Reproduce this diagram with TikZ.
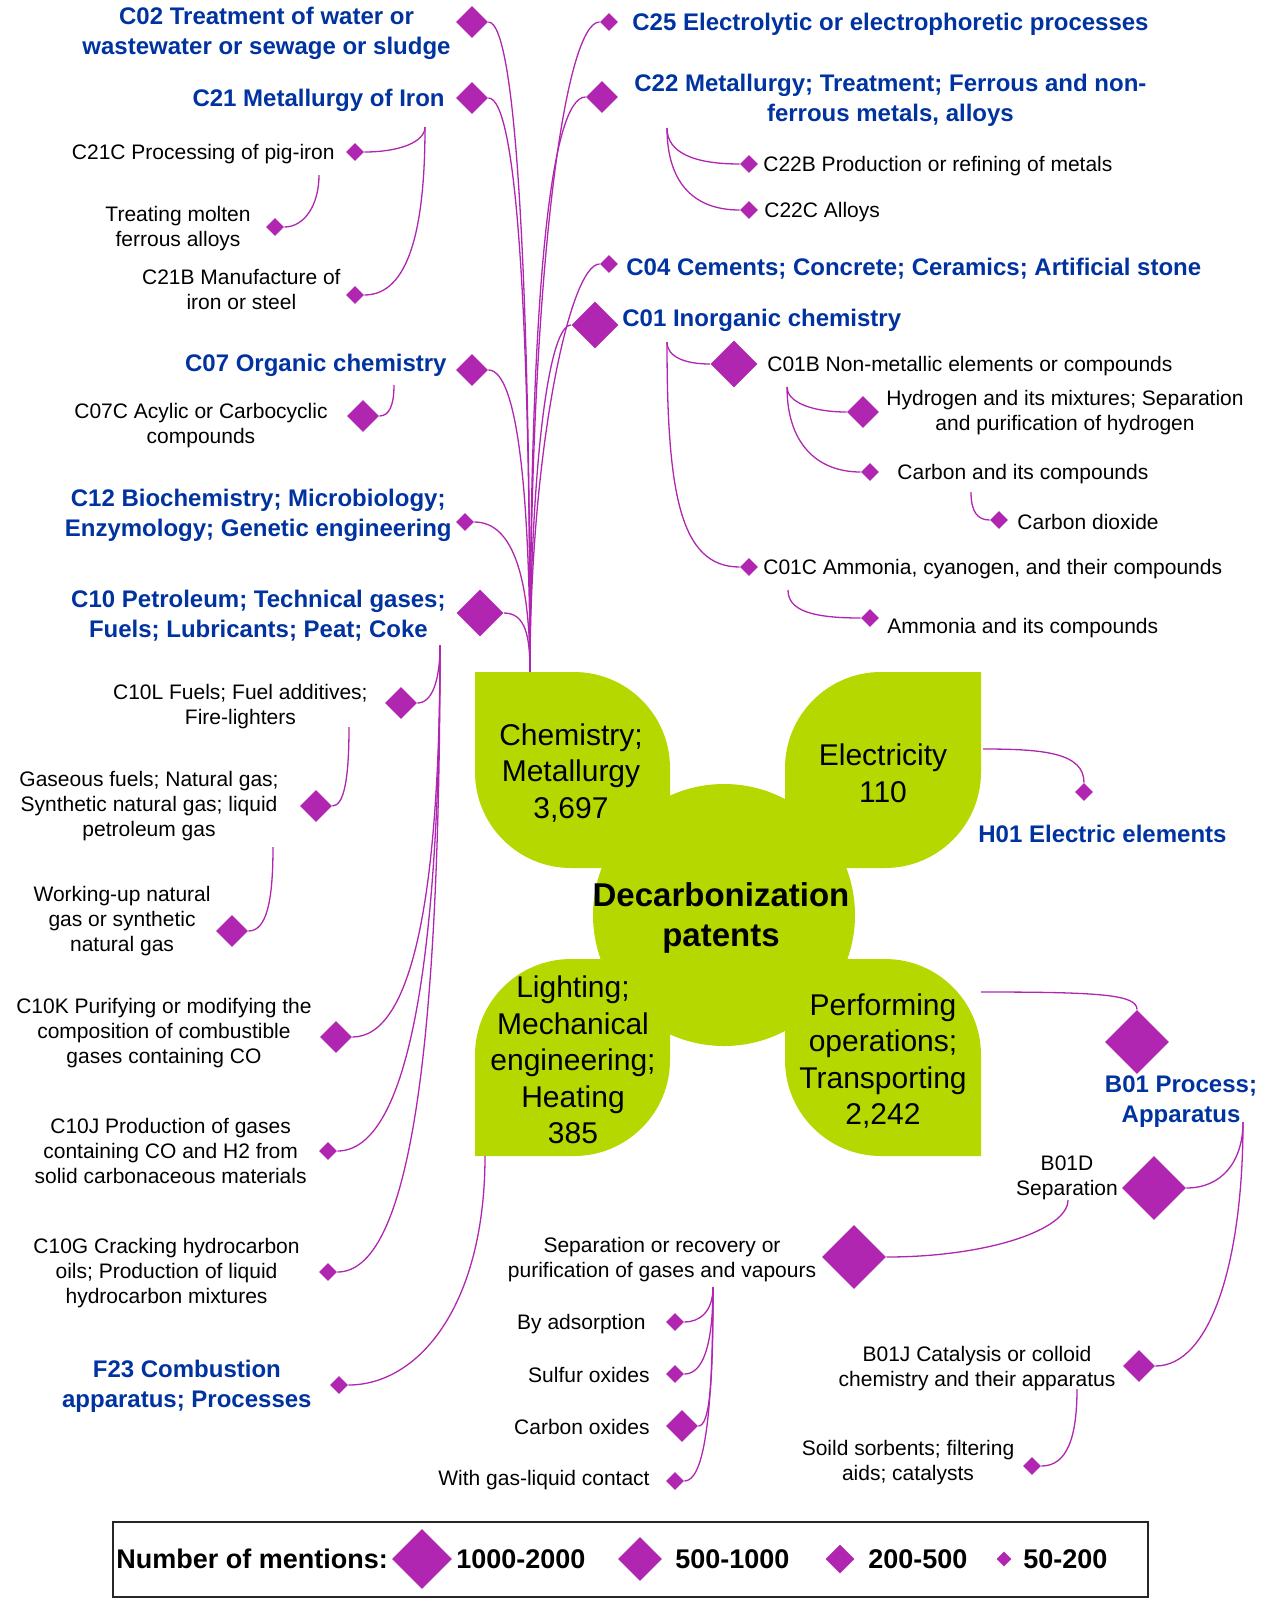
\documentclass[tikz,border=0pt]{standalone}
\usepackage{fontspec}
\setmainfont{Liberation Sans}
\usepackage{tikz}
\usetikzlibrary{shapes.geometric}
\definecolor{leafgreen}{RGB}{181,217,0}
\definecolor{branchpink}{RGB}{176,38,176}
\definecolor{cpcblue}{RGB}{0,51,160}
\tikzset{
    dia/.style={diamond, fill=branchpink, inner sep=0pt, minimum width=#1, minimum height=#1},
    dia xl/.style={dia=32pt},
    dia l/.style={dia=23.5pt},
    dia m/.style={dia=16pt},
    dia s/.style={dia=9pt},
    branch/.style={draw=branchpink, line width=0.65pt},
    cat/.style={text=cpcblue, font=\bfseries\fontsize{12}{15}\selectfont, align=center, inner sep=0pt, yshift=-1pt},
    sub/.style={font=\fontsize{10.5}{12.5}\selectfont, align=center, inner sep=0pt, yshift=-1pt},
    leaf/.style={fill=leafgreen},
    leaftext/.style={font=\fontsize{15}{18.3}\selectfont, align=center, inner sep=0pt, yshift=-1pt},
    legendtext/.style={font=\bfseries\fontsize{13.5}{16}\selectfont, inner sep=0pt},
}

\begin{document}
\begin{tikzpicture}[x=0.5pt, y=-0.5pt]
\useasboundingbox (0,0) rectangle (1273,1600);

\node[dia m] (c02) at (472,22) {};
\node[cat, anchor=east] (c02t) at (451,31) {C02 Treatment of water or\\wastewater or sewage or sludge};
\node[dia m] (c21) at (472,98) {};
\node[cat, anchor=east] (c21t) at (445,98) {C21 Metallurgy of Iron};
\node[dia s] (c21c) at (355,152) {};
\node[sub, anchor=east] (c21ct) at (335,152) {C21C Processing of pig-iron};
\node[dia s] (molten) at (275,227) {};
\node[sub, anchor=east] (moltent) at (251,227) {Treating molten\\ferrous alloys};
\node[dia s] (c21b) at (355,295) {};
\node[sub, anchor=east] (c21bt) at (341,288) {C21B Manufacture of\\iron or steel};
\node[dia m] (c07) at (472,370) {};
\node[cat, anchor=east] (c07t) at (447,363) {C07 Organic chemistry};
\node[dia m] (c07c) at (363,416) {};
\node[sub, anchor=east] (c07ct) at (328,424) {C07C Acylic or Carbocyclic\\compounds};
\node[dia s] (c12) at (465,522) {};
\node[cat, anchor=east] (c12t) at (452,513) {C12 Biochemistry; Microbiology;\\Enzymology; Genetic engineering};
\node[dia l] (c10) at (480,613) {};
\node[cat, anchor=east] (c10t) at (446,614) {C10 Petroleum; Technical gases;\\Fuels; Lubricants; Peat; Coke};
\node[dia m] (c10l) at (401,703) {};
\node[sub, anchor=east] (c10lt) at (368,705) {C10L Fuels; Fuel additives;\\Fire-lighters};
\node[dia m] (gasfuel) at (316,806) {};
\node[sub, anchor=east] (gasfuelt) at (279,804) {Gaseous fuels; Natural gas;\\Synthetic natural gas; liquid\\petroleum gas};
\node[dia m] (workup) at (232,931) {};
\node[sub, anchor=east] (workupt) at (211,919) {Working-up natural\\gas or synthetic\\natural gas};
\node[dia m] (c10k) at (336,1037) {};
\node[sub, anchor=east] (c10kt) at (312,1031) {C10K Purifying or modifying the\\composition of combustible\\gases containing CO};
\node[dia s] (c10j) at (328,1151) {};
\node[sub, anchor=east] (c10jt) at (307,1149) {C10J Production of gases\\containing CO and H2 from\\solid carbonaceous materials};
\node[dia s] (c10g) at (328,1272) {};
\node[sub, anchor=east] (c10gt) at (300,1271) {C10G Cracking hydrocarbon\\oils; Production of liquid\\hydrocarbon mixtures};
\node[dia s] (f23) at (339,1385) {};
\node[cat, anchor=east] (f23t) at (312,1384) {F23 Combustion\\apparatus; Processes};

\node[dia s] (c25) at (609,22) {};
\node[cat, anchor=west] (c25t) at (632,22) {C25 Electrolytic or electrophoretic processes};
\node[dia m] (c22) at (602,97) {};
\node[cat, anchor=west] (c22t) at (634,98) {C22 Metallurgy; Treatment; Ferrous and non-\\ferrous metals, alloys};
\node[dia s] (c22b) at (749,164) {};
\node[sub, anchor=west] (c22bt) at (763,164) {C22B Production or refining of metals};
\node[dia s] (c22c) at (749,210) {};
\node[sub, anchor=west] (c22ct) at (764,210) {C22C Alloys};
\node[dia s] (c04) at (609,264) {};
\node[cat, anchor=west] (c04t) at (626,267) {C04 Cements; Concrete; Ceramics; Artificial stone};
\node[dia l] (c01) at (595,325) {};
\node[cat, anchor=west] (c01t) at (622,318) {C01 Inorganic chemistry};
\node[dia l] (c01b) at (734,364) {};
\node[sub, anchor=west] (c01bt) at (767,364) {C01B Non-metallic elements or compounds};
\node[dia m] (hydro) at (863,412) {};
\node[sub, anchor=west] (hydrot) at (886,411) {Hydrogen and its mixtures; Separation\\and purification of hydrogen};
\node[dia s] (carbon) at (870,472) {};
\node[sub, anchor=west] (carbont) at (897,472) {Carbon and its compounds};
\node[dia s] (co2) at (999,520) {};
\node[sub, anchor=west] (co2t) at (1017,520) {Carbon dioxide};
\node[dia s] (c01c) at (749,567) {};
\node[sub, anchor=west] (c01ct) at (763,567) {C01C Ammonia, cyanogen, and their compounds};
\node[dia s] (ammonia) at (870,618) {};
\node[sub, anchor=west] (ammoniat) at (887,626) {Ammonia and its compounds};

\node[dia s] (h01) at (1084,792) {};
\node[cat, anchor=west] (h01t) at (978,832) {H01 Electric elements};

\node[dia xl] (b01) at (1137,1042) {};
\node[cat] (b01t) at (1181,1100) {B01 Process;\\Apparatus};
\node[dia xl] (b01d) at (1154,1188) {};
\node[sub] (b01dt) at (1067,1176) {B01D\\Separation};
\node[dia xl] (sep) at (854,1257) {};
\node[sub] (sept) at (662,1258) {Separation or recovery or\\purification of gases and vapours};
\node[dia s] (adsorb) at (675,1322) {};
\node[sub, anchor=east] (adsorbt) at (646,1322) {By adsorption};
\node[dia s] (sulfur) at (675,1374) {};
\node[sub, anchor=east] (sulfurt) at (650,1373) {Sulfur oxides};
\node[dia m] (cox) at (682,1426) {};
\node[sub, anchor=east] (coxt) at (650,1425) {Carbon oxides};
\node[dia s] (gasliq) at (675,1481) {};
\node[sub, anchor=east] (gasliqt) at (650,1478) {With gas-liquid contact};
\node[dia m] (b01j) at (1139,1366) {};
\node[sub] (b01jt) at (977,1367) {B01J Catalysis or colloid\\chemistry and their apparatus};
\node[dia s] (sorb) at (1032,1466) {};
\node[sub] (sorbt) at (908,1461) {Soild sorbents; filtering\\aids; catalysts};

\coordinate (trunk) at (530,672);
\coordinate (c21fork) at (425,127);
\coordinate (c21cfork) at (319,175);
\coordinate (c07fork) at (394,385);
\coordinate (c10fork) at (440,645);
\coordinate (c10lfork) at (349,727);
\coordinate (gasfork) at (273,847);
\coordinate (c22fork) at (667,128);
\coordinate (c01fork) at (667,342);
\coordinate (c01bfork) at (787,387);
\coordinate (carbonfork) at (971,492);
\coordinate (c01cfork) at (788,590);
\coordinate (elecside) at (983,749);
\coordinate (perfside) at (981,992);
\coordinate (lightfoot) at (485,1156);
\coordinate (b01fork) at (1243,1122);
\coordinate (b01dfork) at (1068,1200);
\coordinate (sepfork) at (713,1287);
\coordinate (b01jfork) at (1077,1389);

\draw[branch] (c02.east) .. controls +(30,0) and +(0,-350) .. (trunk);
\draw[branch] (c21.east) .. controls +(30,0) and +(0,-330) .. (trunk);
\draw[branch] (c07.east) .. controls +(30,0) and +(0,-170) .. (trunk);
\draw[branch] (c12.east) .. controls +(40,0) and +(0,-90) .. (trunk);
\draw[branch] (c10.east) .. controls +(22,0) and +(0,-35) .. (trunk);
\draw[branch] (c25.west) .. controls +(-35,0) and +(0,-400) .. (trunk);
\draw[branch] (c22.west) .. controls +(-35,0) and +(0,-380) .. (trunk);
\draw[branch] (c04.west) .. controls +(-30,0) and +(0,-220) .. (trunk);
\draw[branch] (c01.west) .. controls +(-25,0) and +(0,-180) .. (trunk);

\draw[branch] (c21fork) .. controls +(0,15) and +(35,0) .. (c21c.east);
\draw[branch] (c21fork) .. controls +(0,100) and +(45,0) .. (c21b.east);
\draw[branch] (c21cfork) .. controls +(0,30) and +(20,0) .. (molten.east);
\draw[branch] (c07fork) .. controls +(0,20) and +(10,0) .. (c07c.east);
\draw[branch] (c10fork) .. controls +(0,35) and +(15,0) .. (c10l.east);
\draw[branch] (c10fork) .. controls +(0,250) and +(60,0) .. (c10k.east);
\draw[branch] (c10fork) .. controls +(0,320) and +(70,0) .. (c10j.east);
\draw[branch] (c10fork) .. controls +(0,420) and +(70,0) .. (c10g.east);
\draw[branch] (c10lfork) .. controls +(0,50) and +(12,0) .. (gasfuel.east);
\draw[branch] (gasfork) .. controls +(0,55) and +(18,0) .. (workup.east);
\draw[branch] (lightfoot) .. controls +(0,150) and +(70,0) .. (f23.east);
\draw[branch] (c22fork) .. controls +(0,25) and +(-45,0) .. (c22b.west);
\draw[branch] (c22fork) .. controls +(0,50) and +(-50,0) .. (c22c.west);
\draw[branch] (c01fork) .. controls +(0,15) and +(-25,0) .. (c01b.west);
\draw[branch] (c01fork) .. controls +(0,150) and +(-60,0) .. (c01c.west);
\draw[branch] (c01bfork) .. controls +(0,15) and +(-35,0) .. (hydro.west);
\draw[branch] (c01bfork) .. controls +(0,55) and +(-45,0) .. (carbon.west);
\draw[branch] (carbonfork) .. controls +(0,20) and +(-12,0) .. (co2.west);
\draw[branch] (c01cfork) .. controls +(0,20) and +(-50,0) .. (ammonia.west);
\draw[branch] (elecside) .. controls +(60,0) and +(0,-30) .. (h01.north);
\draw[branch] (perfside) .. controls +(120,0) and +(0,-15) .. (b01.north);
\draw[branch] (b01fork) .. controls +(0,40) and +(35,0) .. (b01d.east);
\draw[branch] (b01fork) .. controls +(0,140) and +(55,0) .. (b01j.east);
\draw[branch] (b01dfork) .. controls +(0,30) and +(100,0) .. (sep.east);
\draw[branch] (sepfork) .. controls +(0,25) and +(15,0) .. (adsorb.east);
\draw[branch] (sepfork) .. controls +(0,60) and +(18,0) .. (sulfur.east);
\draw[branch] (sepfork) .. controls +(0,90) and +(12,0) .. (cox.east);
\draw[branch] (sepfork) .. controls +(0,140) and +(18,0) .. (gasliq.east);
\draw[branch] (b01jfork) .. controls +(0,50) and +(25,0) .. (sorb.east);

\fill[leaf] (724,915) circle (65.5pt);
\fill[leaf] (475,672) -- (574,672) .. controls +(53,0) and +(0,-53) .. (670,768) -- (670,868) -- (571,868) .. controls +(-53,0) and +(0,53) .. (475,772) -- cycle;
\fill[leaf] (981,672) -- (981,772) .. controls +(0,53) and +(53,0) .. (885,868) -- (785,868) -- (785,768) .. controls +(0,-53) and +(-53,0) .. (881,672) -- cycle;
\fill[leaf] (475,1156) -- (475,1055) .. controls +(0,-53) and +(-53,0) .. (571,959) -- (670,959) -- (670,1060) .. controls +(0,53) and +(53,0) .. (574,1156) -- cycle;
\fill[leaf] (981,1156) -- (881,1156) .. controls +(-53,0) and +(0,53) .. (785,1060) -- (785,959) -- (885,959) .. controls +(53,0) and +(0,-53) .. (981,1055) -- cycle;

\node[leaftext] (chem) at (571,771) {Chemistry;\\Metallurgy\\3,697};
\node[leaftext] (elect) at (883,771) {Electricity\\110};
\node[leaftext] (lighting) at (573,1058) {Lighting;\\Mechanical\\engineering;\\Heating\\385};
\node[leaftext] (perform) at (883,1059) {Performing\\operations;\\Transporting\\2,242};
\node[font=\bfseries\fontsize{16.5}{20}\selectfont, align=center, inner sep=0pt] (hub) at (721,918) {Decarbonization\\patents};

\draw[line width=1pt, draw=black!85] (113,1522) rectangle (1148,1597);
\node[legendtext, anchor=west] (legtitle) at (116,1559) {Number of mentions:};
\node[dia=30pt] (legxl) at (422,1559) {};
\node[legendtext, anchor=west] (legxlt) at (456,1559) {1000-2000};
\node[dia=22pt] (legl) at (640,1559) {};
\node[legendtext, anchor=west] (leglt) at (675,1559) {500-1000};
\node[dia=14.5pt] (legm) at (840,1559) {};
\node[legendtext, anchor=west] (legmt) at (868,1559) {200-500};
\node[dia=7.5pt] (legs) at (1004,1559) {};
\node[legendtext, anchor=west] (legst) at (1023,1559) {50-200};
\end{tikzpicture}
\end{document}
